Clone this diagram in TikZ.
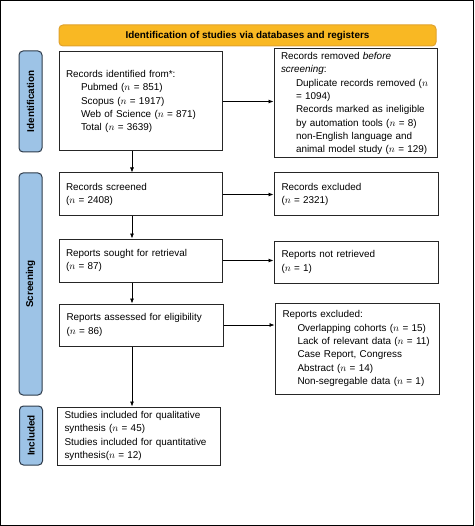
\documentclass[tikz,border=0pt]{standalone}
\usepackage{fontspec}
\setmainfont{Liberation Sans}
\usepackage{tikz}
\usetikzlibrary{arrows.meta}
\definecolor{headfill}{HTML}{F9B823}
\definecolor{headline}{HTML}{E0A22C}
\definecolor{phasefill}{HTML}{9DC3E6}
\definecolor{phaseline}{HTML}{2E3B4B}
\newcommand{\indline}{\hspace*{15pt}}

\begin{document}
\begin{tikzpicture}[x=1pt,y=-1pt,
  txt/.style={font=\fontsize{9.9}{13.3}\selectfont},
  flowbox/.style={txt,draw=black!85,line width=1pt,align=left,inner xsep=7pt,
    text width=149pt,minimum width=163pt},
  phase/.style={txt,font=\fontsize{9.9}{12}\selectfont\bfseries,draw=phaseline,line width=1pt,
    fill=phasefill,rounded corners=4pt,rotate=90,minimum height=23pt,inner sep=0pt},
  arr/.style={line width=0.7pt,-{Latex[length=5pt,width=4pt]}}]
\useasboundingbox (0,0) rectangle (474,526);
\draw[line width=1pt] (0.5,0.5) rectangle (473.5,525.5);
\node[txt,font=\fontsize{9.9}{12}\selectfont\bfseries,draw=headline,line width=1pt,fill=headfill,
  rounded corners=4pt,minimum width=377pt,minimum height=21pt] (head) at (247.5,35.5)
  {Identification of studies via databases and registers};
\node[phase,minimum width=101pt] (identif) at (30.5,101.5) {Identification};
\node[phase,minimum width=222pt] (screen) at (30.5,284) {Screening};
\node[phase,minimum width=59pt] (incl) at (31,435.5) {Included};
\node[flowbox,minimum height=99pt] (idbox) at (140.5,101.5)
  {Records identified from*:\\
   \indline Pubmed ($n$ = 851)\\
   \indline Scopus ($n$ = 1917)\\
   \indline Web of Science ($n$ = 871)\\
   \indline Total ($n$ = 3639)};
\node[flowbox,minimum height=105pt] (removed) at (355.5,103.5)
  {Records removed \textit{before}\\
   \textit{screening}:\\
   \indline Duplicate records removed ($n$\\
   \indline = 1094)\\
   \indline Records marked as ineligible\\
   \indline by automation tools ($n$ = 8)\\
   \indline non-English language and\\
   \indline animal model study ($n$ = 129)};
\node[flowbox,minimum height=43pt] (screened) at (140.5,194.5)
  {Records screened\\($n$ = 2408)};
\node[flowbox,minimum height=43pt,minimum width=164pt] (excluded) at (356,194.5)
  {Records excluded\\($n$ = 2321)};
\node[flowbox,minimum height=43pt] (sought) at (140.5,260.5)
  {Reports sought for retrieval\\($n$ = 87)};
\node[flowbox,minimum height=42pt,minimum width=164pt] (notretr) at (356,262)
  {Reports not retrieved\\($n$ = 1)};
\node[flowbox,minimum height=42pt,minimum width=164pt] (assessed) at (141,325)
  {Reports assessed for eligibility\\($n$ = 86)};
\node[flowbox,minimum height=91pt,minimum width=164pt] (repexcl) at (357,348.5)
  {Reports excluded:\\
   \indline Overlapping cohorts ($n$ = 15)\\
   \indline Lack of relevant data ($n$ = 11)\\
   \indline Case Report, Congress\\
   \indline Abstract ($n$ = 14)\\
   \indline Non-segregable data ($n$ = 1)};
\node[flowbox,minimum height=58pt] (included) at (139,436)
  {Studies included for qualitative\\
   synthesis ($n$ = 45)\\
   Studies included for quantitative\\
   synthesis($n$ = 12)};
\draw[arr] (idbox.east) -- (idbox.east -| removed.west);
\draw[arr] (screened.east) -- (screened.east -| excluded.west);
\draw[arr] (sought.east) -- (sought.east -| notretr.west);
\draw[arr] (assessed.east) -- (assessed.east -| repexcl.west);
\draw[arr] ([xshift=-8.5pt]idbox.south) -- ([xshift=-8.5pt]screened.north);
\draw[arr] ([xshift=-8.5pt]screened.south) -- ([xshift=-8.5pt]sought.north);
\draw[arr] ([xshift=-8.5pt]sought.south) -- ([xshift=-8.5pt]sought.south |- assessed.north);
\draw[arr] ([xshift=-9pt]assessed.south) -- ([xshift=-9pt]assessed.south |- included.north);
\end{tikzpicture}
\end{document}
